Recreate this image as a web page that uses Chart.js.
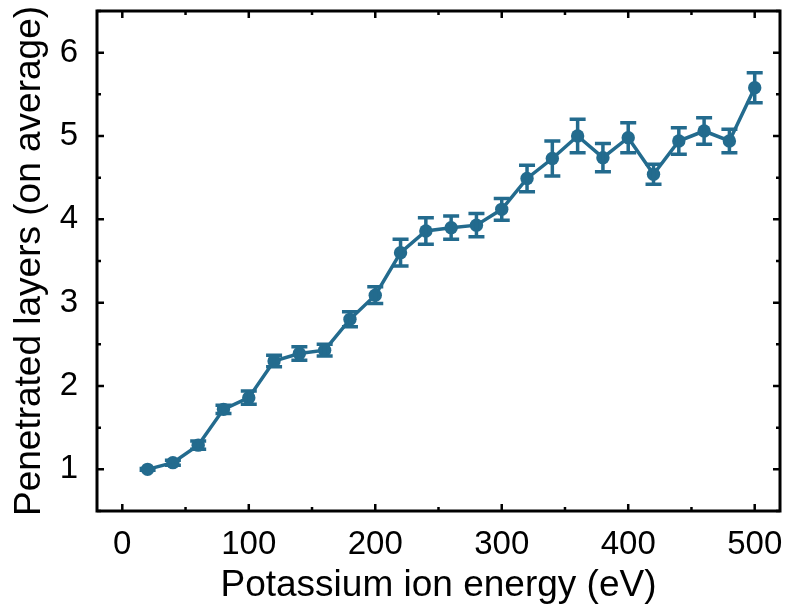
<!DOCTYPE html>
<html>
<head>
<meta charset="utf-8">
<script src="https://cdn.jsdelivr.net/npm/chart.js@4"></script>
<style>
  html, body { margin: 0; padding: 0; background: #fff; }
</style>
</head>
<body>
<canvas id="layersChart" width="788" height="608"></canvas>
<script>
// values
const energy = [20, 40, 60, 80, 100, 120, 140, 160, 180, 200, 220, 240, 260,
  280, 300, 320, 340, 360, 380, 400, 420, 440, 460, 480, 500];
const layers = [1.00, 1.08, 1.29, 1.72, 1.86, 2.30, 2.39, 2.43, 2.80, 3.09, 3.60, 3.86, 3.90,
  3.93, 4.12, 4.49, 4.73, 5.00, 4.74, 4.98, 4.54, 4.94, 5.06, 4.94, 5.58];
const errors = [0.01, 0.03, 0.05, 0.05, 0.08, 0.07, 0.08, 0.07, 0.09, 0.10, 0.16, 0.16, 0.14,
  0.14, 0.13, 0.16, 0.21, 0.20, 0.17, 0.18, 0.12, 0.16, 0.16, 0.14, 0.18];

const xTicks = [0, 100, 200, 300, 400, 500];
const yTicks = [1, 2, 3, 4, 5, 6];

const xTitle = "Potassium ion energy (eV)";
const yTitle = "Penetrated layers (on average)";

const lineColor = "#236b8e";
const fontFamily = "'Liberation Sans', Arial, Helvetica, sans-serif";

// error bars with caps
const errorBars = {
  id: "errorBars",
  afterDatasetsDraw(chart) {
    const { ctx, scales: { x, y } } = chart;
    ctx.save();
    ctx.strokeStyle = lineColor;
    ctx.lineWidth = 3.5;
    energy.forEach((e, i) => {
      const px = x.getPixelForValue(e);
      const top = y.getPixelForValue(layers[i] + errors[i]);
      const bot = y.getPixelForValue(layers[i] - errors[i]);
      ctx.beginPath();
      ctx.moveTo(px, top);
      ctx.lineTo(px, bot);
      ctx.moveTo(px - 8, top);
      ctx.lineTo(px + 8, top);
      ctx.moveTo(px - 8, bot);
      ctx.lineTo(px + 8, bot);
      ctx.stroke();
    });
    ctx.restore();
  },
};

// box frame with inward ticks on all four sides
const frameTicks = {
  id: "frameTicks",
  afterDraw(chart) {
    const { ctx, chartArea: a, scales: { x, y } } = chart;
    ctx.save();
    ctx.strokeStyle = "#000";
    ctx.lineWidth = 2.5;

    const marks = (scale, step) => {
      const out = [];
      scale.ticks.forEach((t) => {
        out.push([t.value, 7]);
        [t.value - step / 2, t.value + step / 2].forEach((m) => {
          if (m >= scale.min && m <= scale.max && !out.some((o) => o[0] === m)) out.push([m, 4]);
        });
      });
      return out;
    };

    ctx.beginPath();
    marks(x, 100).forEach(([v, len]) => {
      const px = x.getPixelForValue(v);
      ctx.moveTo(px, a.bottom);
      ctx.lineTo(px, a.bottom - len);
      ctx.moveTo(px, a.top);
      ctx.lineTo(px, a.top + len);
    });
    marks(y, 1).forEach(([v, len]) => {
      const py = y.getPixelForValue(v);
      ctx.moveTo(a.left, py);
      ctx.lineTo(a.left + len, py);
      ctx.moveTo(a.right, py);
      ctx.lineTo(a.right - len, py);
    });
    ctx.stroke();

    ctx.lineWidth = 3;
    ctx.strokeRect(a.left, a.top, a.right - a.left, a.bottom - a.top);
    ctx.restore();
  },
};

new Chart(document.getElementById("layersChart"), {
  type: "scatter",
  data: {
    datasets: [
      {
        data: energy.map((e, i) => ({ x: e, y: layers[i] })),
        showLine: true,
        borderColor: lineColor,
        backgroundColor: lineColor,
        borderWidth: 3.5,
        pointRadius: 6.7,
        pointBorderWidth: 0,
      },
    ],
  },
  options: {
    responsive: false,
    animation: false,
    layout: { padding: { top: 11, right: 8, left: 0, bottom: 0 } },
    plugins: {
      legend: { display: false },
      tooltip: { enabled: false },
    },
    scales: {
      x: {
        type: "linear",
        min: -20,
        max: 520,
        grid: { display: false, drawTicks: false },
        border: { display: false },
        afterBuildTicks(scale) {
          scale.ticks = xTicks.map((v) => ({ value: v }));
        },
        ticks: {
          maxRotation: 0,
          autoSkip: false,
          padding: 14,
          color: "#000",
          font: { family: fontFamily, size: 33 },
        },
        title: {
          display: true,
          text: xTitle,
          color: "#000",
          padding: 0,
          font: { family: fontFamily, size: 37 },
        },
        afterFit(scale) {
          scale.height = 97;
          scale.paddingLeft = 0;
          scale.paddingRight = 0;
        },
      },
      y: {
        min: 0.5,
        max: 6.5,
        grid: { display: false, drawTicks: false },
        border: { display: false },
        afterBuildTicks(scale) {
          scale.ticks = yTicks.map((v) => ({ value: v }));
        },
        ticks: {
          autoSkip: false,
          padding: 19,
          color: "#000",
          font: { family: fontFamily, size: 33 },
        },
        title: {
          display: true,
          text: yTitle,
          color: "#000",
          padding: { top: 8, bottom: 0 },
          font: { family: fontFamily, size: 37 },
        },
        afterFit(scale) {
          scale.width = 97;
          scale.paddingTop = 0;
          scale.paddingBottom = 0;
        },
      },
    },
  },
  plugins: [errorBars, frameTicks],
});
</script>
</body>
</html>
